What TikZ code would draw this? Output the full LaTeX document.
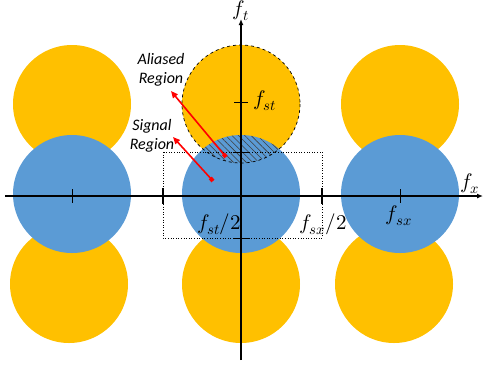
\documentclass[tikz,border=0pt]{standalone}
\usepackage{unicode-math}
\setmathfont{Latin Modern Math}
\newfontfamily\labelfont{Carlito}
\usetikzlibrary{arrows.meta,patterns.meta}
\definecolor{gold}{HTML}{FFC000}
\definecolor{skyblue}{HTML}{5B9BD5}
\tikzset{
  alias/.style={circle,fill=gold,minimum size=118pt,inner sep=0pt},
  base/.style={circle,fill=skyblue,minimum size=118pt,inner sep=0pt},
  axis/.style={line width=1.2pt,-{Latex[length=6pt,width=5pt]}},
  tick/.style={line width=0.8pt},
  thicktick/.style={line width=2pt},
  pointer/.style={red,line width=1.6pt,{Square[length=4pt,width=4pt]}-{Triangle[length=7pt,width=6pt]}},
  flabel/.style={font=\fontsize{21}{24}\selectfont,inner sep=0pt},
  rlabel/.style={font=\labelfont\itshape\fontsize{16}{19}\selectfont,align=center,inner sep=0pt},
}
\begin{document}
\begin{tikzpicture}[x=1pt,y=-1pt]
\useasboundingbox (0,0) rectangle (484,368);
% aliased spectra
\node[alias] (ytl) at (72,104) {};
\node[alias] (ytc) at (241,104) {};
\node[alias] (ytr) at (400,104) {};
\node[alias] (ybl) at (69,284) {};
\node[alias] (ybc) at (241,284) {};
\node[alias] (ybr) at (394,284) {};
% baseband spectra
\node[base] (bl) at (72,194) {};
\node[base] (bc) at (241,194) {};
\node[base] (br) at (400,194) {};
% hatched overlap
\begin{scope}
  \clip (241,104) circle (59);
  \fill[pattern={Lines[angle=-45,distance=4.5pt,line width=0.6pt]},pattern color=black!75] (241,194) circle (59);
\end{scope}
\draw[dashed,line width=0.7pt] (ytc) circle (59);
% dotted box
\draw[dotted,line width=0.6pt] (163,152) rectangle (322,238);
% axes
\coordinate (xs) at (5,196);
\coordinate (xe) at (483,196);
\coordinate (ys) at (241,360);
\coordinate (ye) at (241,19);
\draw[axis] (xs) -- (xe);
\draw[axis] (ys) -- (ye);
\node[flabel] (ft) at (241,11) {$f_t$};
\node[flabel] (fx) at (470,184) {$f_x$};
% ticks
\draw[tick] (72,189) -- (72,203);
\draw[tick] (400,189) -- (400,203);
\draw[thicktick] (163,188) -- (163,204);
\draw[thicktick] (322,188) -- (322,204);
\draw[tick] (234,102) -- (248,102);
\draw[tick] (233,152) -- (249,152);
\draw[tick] (233,238) -- (249,238);
% labels
\node[flabel] (fst) at (265,101) {$f_{st}$};
\node[flabel] (fst2) at (219,224) {$f_{st}/2$};
\node[flabel] (fsx2) at (323,224) {$f_{sx}/2$};
\node[flabel] (fsx) at (399,216) {$f_{sx}$};
\node[rlabel] (alab) at (161,70) {Aliased\\Region};
\node[rlabel] (slab) at (152,136) {Signal\\Region};
% pointers
\coordinate (a0) at (226,157);
\coordinate (a1) at (171,91);
\coordinate (s0) at (213,181);
\coordinate (s1) at (173,137);
\draw[pointer] (a0) -- (a1);
\draw[pointer] (s0) -- (s1);
\end{tikzpicture}
\end{document}
